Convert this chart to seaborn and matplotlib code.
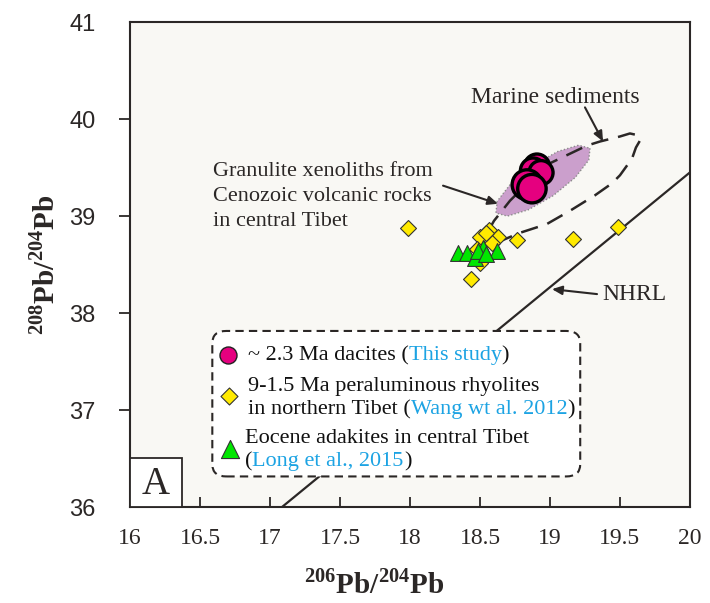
import numpy as np
import pandas as pd
import matplotlib
matplotlib.use("Agg")
import matplotlib.pyplot as plt
import seaborn as sns
from matplotlib.patches import Polygon, FancyBboxPatch, Rectangle

sns.set_theme(style="white")
plt.rcParams["font.family"] = ["Liberation Serif", "DejaVu Serif"]
plt.rcParams["mathtext.fontset"] = "custom"
plt.rcParams["mathtext.rm"] = "Liberation Serif"
plt.rcParams["mathtext.bf"] = "Liberation Serif:bold"

# --- data ---
dacite_x = [18.907, 18.879, 18.936, 18.836, 18.871]
dacite_y = [39.509, 39.468, 39.447, 39.323, 39.282]
dacite_s = [330, 330, 300, 460, 420]

rhyolite_x = [17.986, 18.434, 18.762, 19.164, 19.486, 18.566, 18.500, 18.631,
              18.584, 18.476, 18.512, 18.500, 18.543]
rhyolite_y = [38.878, 38.353, 38.751, 38.767, 38.888, 38.857, 38.788, 38.788,
              38.726, 38.657, 38.570, 38.519, 38.826]

adakite_x = [18.345, 18.405, 18.464, 18.524, 18.624, 18.486, 18.543]
adakite_y = [38.622, 38.622, 38.570, 38.674, 38.640, 38.640, 38.609]

nhrl_x = [17.086, 20.0]
nhrl_y = [36.0, 39.45]

# granulite xenolith field outline
gran_x = [19.286, 19.277, 19.181, 19.023, 18.845, 18.696, 18.614, 18.623,
          18.719, 18.877, 19.055, 19.204]
gran_y = [39.698, 39.577, 39.398, 39.210, 39.064, 38.999, 39.031, 39.152,
          39.331, 39.519, 39.665, 39.730]

# marine sediments field outline (open hairpin)
marine_x = [18.464, 18.600, 18.714, 18.964, 19.264, 19.357, 19.500, 19.571,
            19.636, 19.643, 19.614, 19.586, 19.500, 19.443, 19.321, 19.143,
            18.976, 18.786, 18.643, 18.521, 18.457, 18.443, 18.464]
marine_y = [38.605, 38.950, 39.157, 39.519, 39.726, 39.768, 39.820, 39.851,
            39.830, 39.778, 39.706, 39.592, 39.420, 39.337, 39.213, 39.054,
            38.916, 38.827, 38.740, 38.615, 38.533, 38.564, 38.605]

x_ticks = [16, 16.5, 17, 17.5, 18, 18.5, 19, 19.5, 20]
y_ticks = [36, 37, 38, 39, 40, 41]

legend_entries = [
    [[("~ 2.3 Ma dacites (", "k"), ("This study", "blue"), (")", "k")]],
    [[("9-1.5 Ma peraluminous rhyolites", "k")],
     [("in northern Tibet (", "k"), ("Wang wt al. 2012", "blue"), (")", "k")]],
    [[("Eocene adakites in central Tibet", "k")],
     [("(", "k"), ("Long et al., 2015", "blue"), (")", "k")]],
]

granulite_lines = ["Granulite xenoliths from", "Cenozoic volcanic rocks", "in central Tibet"]

pink = "#e5007f"
yellow = "#ffea00"
green = "#00e600"
ref_blue = "#1ca3e3"
ink = "#2b2726"
fs = 16

fig = plt.figure(figsize=(7.1, 6.03), dpi=100)
ax = fig.add_axes([0.1831, 0.1592, 0.7887, 0.8043])
ax.set_facecolor("#f9f8f4")

# fields
ax.add_patch(Polygon(np.column_stack([gran_x, gran_y]), closed=True,
                     facecolor="#cb9fcc", edgecolor="#8c8c8c", lw=1.0,
                     linestyle=(0, (1, 1.5)), zorder=2))
ax.plot(marine_x, marine_y, color=ink, lw=1.8, linestyle=(0, (7, 4)),
        zorder=3, solid_capstyle="butt")
ax.plot(nhrl_x, nhrl_y, color=ink, lw=1.6, zorder=3)

# samples
sns.scatterplot(x=rhyolite_x, y=rhyolite_y, marker="D", s=66, color=yellow,
                edgecolor="#333333", linewidth=0.8, ax=ax, zorder=4)
sns.scatterplot(x=adakite_x, y=adakite_y, marker="^", s=130, color=green,
                edgecolor="#333333", linewidth=0.8, ax=ax, zorder=5)
sns.scatterplot(x=dacite_x, y=dacite_y, marker="o", s=dacite_s, color=pink,
                edgecolor="black", linewidth=2.4, ax=ax, zorder=6, legend=False)

# annotations
arrow_kw = dict(arrowstyle="-|>,head_length=0.5,head_width=0.22", color=ink, lw=1.5,
                shrinkA=0, shrinkB=0)
ax.text(19.036, 40.224, "Marine sediments", ha="center", va="center",
        fontsize=fs + 1, color=ink)
ax.annotate("", xy=(19.379, 39.768), xytext=(19.25, 40.12), arrowprops=arrow_kw, zorder=7)

for i, line in enumerate(granulite_lines):
    ax.text(16.593, 39.458 - i * 0.259, line, ha="left", va="center",
            fontsize=fs, color=ink)
ax.annotate("", xy=(18.629, 39.126), xytext=(18.236, 39.313), arrowprops=arrow_kw, zorder=7)

ax.text(19.6, 38.195, "NHRL", ha="center", va="center", fontsize=fs + 1, color=ink)
ax.annotate("", xy=(19.014, 38.246), xytext=(19.336, 38.195), arrowprops=arrow_kw, zorder=7)

# panel letter
ax.add_patch(Rectangle((0, 0), 0.093, 0.101, transform=ax.transAxes,
                       facecolor="white", edgecolor=ink, lw=1.3, zorder=8))
ax.text(0.0465, 0.047, "A", transform=ax.transAxes, ha="center", va="center",
        fontsize=28, color=ink, zorder=9)

# legend box
ax.add_patch(FancyBboxPatch((0.147, 0.063), 0.657, 0.3, transform=ax.transAxes,
                            boxstyle="round,pad=0,rounding_size=0.025",
                            facecolor="white", edgecolor=ink, lw=1.5,
                            linestyle=(0, (4, 2.5)), zorder=8))
ax.scatter([0.175], [0.3126], transform=ax.transAxes, s=150, marker="o",
           color=pink, edgecolor="#222222", linewidth=1.0, zorder=9)
ax.scatter([0.177], [0.2298], transform=ax.transAxes, s=75, marker="D",
           color=yellow, edgecolor="#333333", linewidth=0.8, zorder=9)
ax.scatter([0.178], [0.120], transform=ax.transAxes, s=170, marker="^",
           color=green, edgecolor="#333333", linewidth=0.8, zorder=9)

line_pos = [[(0.2107, 0.3126)], [(0.2107, 0.2484), (0.2107, 0.2008)],
            [(0.2054, 0.1408), (0.2054, 0.0932)]]
for entry, positions in zip(legend_entries, line_pos):
    for pieces, (lx, ly) in zip(entry, positions):
        prev = None
        for txt, col in pieces:
            c = ref_blue if col == "blue" else "#111111"
            if prev is None:
                prev = ax.text(lx, ly, txt, transform=ax.transAxes, ha="left",
                               va="center", fontsize=fs, color=c, zorder=10)
            else:
                prev = ax.annotate(txt, xy=(1, 0), xycoords=prev, ha="left",
                                   va="bottom", fontsize=fs, color=c, zorder=10)

# axes
ax.set_xlim(16, 20)
ax.set_ylim(36, 41)
ax.set_xticks(x_ticks)
ax.set_xticklabels([f"{t:g}" for t in x_ticks])
ax.set_yticks(y_ticks)
ax.set_yticklabels([f"{t:g}" for t in y_ticks])
for lab in ax.get_yticklabels():
    lab.set_fontfamily(["Liberation Sans", "DejaVu Sans"])
ax.tick_params(axis="x", direction="in", length=7, width=1.3, pad=15,
               labelsize=17, colors=ink, bottom=True)
ax.tick_params(axis="y", direction="out", length=8, width=1.3, pad=17,
               labelsize=17, colors=ink, left=True)
yt = ax.yaxis.get_major_ticks()
yt[0].tick1line.set_visible(False)
yt[-1].tick1line.set_visible(False)
for sp in ax.spines.values():
    sp.set_color(ink)
    sp.set_linewidth(1.5)

ax.set_xlabel(r"$^{\mathbf{206}}$Pb/$^{\mathbf{204}}$Pb", fontsize=21,
              fontweight="bold", color=ink)
ax.xaxis.set_label_coords(0.436, -0.128)
ax.set_ylabel(r"$^{\mathbf{208}}$Pb/$^{\mathbf{204}}$Pb", fontsize=21,
              fontweight="bold", color=ink)
ax.yaxis.set_label_coords(-0.125, 0.5)

fig.savefig("out.png", dpi=100, facecolor="white")
